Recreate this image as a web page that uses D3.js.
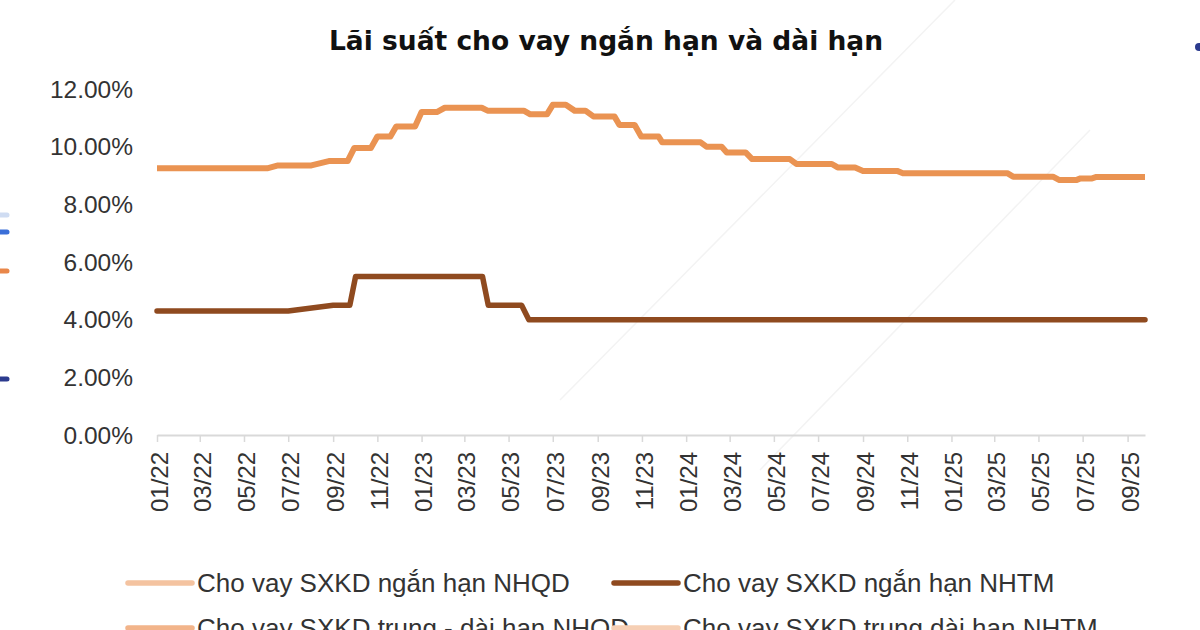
<!DOCTYPE html>
<html>
<head>
<meta charset="utf-8">
<script src="https://cdn.jsdelivr.net/npm/d3@7"></script>
<style>
  html, body { margin: 0; padding: 0; background: #ffffff; }
  svg { display: block; }
</style>
</head>
<body>
<svg id="chart" width="1200" height="630"></svg>
<script>
// ---------------- DATA ----------------
const chartTitle = "Lãi suất cho vay ngắn hạn và dài hạn";

const xTickLabels = ["01/22","03/22","05/22","07/22","09/22","11/22","01/23","03/23","05/23","07/23","09/23","11/23",
                     "01/24","03/24","05/24","07/24","09/24","11/24","01/25","03/25","05/25","07/25","09/25"];
const yTickValues = [0, 2, 4, 6, 8, 10, 12];

// Orange line (breakpoints of the step-like series, %)
const orangeDates = ["2022-01-01","2022-06-02","2022-06-17","2022-08-02","2022-08-26","2022-09-21","2022-09-30","2022-10-23",
  "2022-11-01","2022-11-19","2022-11-27","2022-12-23","2023-01-01","2023-01-22","2023-02-02","2023-03-25","2023-04-02",
  "2023-05-22","2023-05-31","2023-06-23","2023-07-01","2023-07-19","2023-07-31","2023-08-15","2023-08-26","2023-09-24",
  "2023-10-01","2023-10-22","2023-10-31","2023-11-24","2023-11-29","2024-01-21","2024-01-29","2024-02-19","2024-02-26",
  "2024-03-23","2024-04-01","2024-05-23","2024-06-01","2024-07-20","2024-07-28","2024-08-21","2024-09-01","2024-10-18",
  "2024-10-26","2025-03-19","2025-03-27","2025-05-21","2025-05-30","2025-06-22","2025-06-28","2025-07-14","2025-07-20",
  "2025-09-25"];
const orangeValues = [9.25,9.25,9.35,9.35,9.5,9.5,9.95,9.95,
  10.35,10.35,10.7,10.7,11.2,11.2,11.35,11.35,11.25,
  11.25,11.12,11.12,11.45,11.45,11.25,11.25,11.05,11.05,
  10.75,10.75,10.35,10.35,10.15,10.15,10.0,10.0,9.8,
  9.8,9.57,9.57,9.4,9.4,9.28,9.28,9.16,9.16,
  9.08,9.08,8.96,8.96,8.84,8.84,8.9,8.9,8.95,
  8.95];

// Brown line (%)
const brownDates = ["2022-01-01","2022-07-01","2022-09-01","2022-09-24","2022-10-02","2023-03-26","2023-04-03","2023-05-19","2023-05-29","2025-09-25"];
const brownValues = [4.3,4.3,4.5,4.5,5.5,5.5,4.5,4.5,4.0,4.0];

const legendLabels = ["Cho vay SXKD ngắn hạn NHQD","Cho vay SXKD ngắn hạn NHTM",
                      "Cho vay SXKD trung - dài hạn NHQD","Cho vay SXKD trung dài hạn NHTM"];
const legendColors = ["#f4c3a0","#8f4a1f","#f2b48a","#f6cfb4"];

// ---------------- CHART ----------------
const svg = d3.select("#chart");
const parse = d3.timeParse("%Y-%m-%d");
const parseTick = d3.timeParse("%m/%y");

const x = d3.scaleTime()
  .domain([parse("2022-01-01"), parse("2025-09-25")])
  .range([157, 1145]);
const y = d3.scaleLinear().domain([0, 12]).range([435, 89]);

// very faint background decoration (from the source slide)
const deco = svg.append("g");
deco.append("line").attr("x1", 955).attr("y1", 0).attr("x2", 560).attr("y2", 400)
  .attr("stroke", "#f3f3f3").attr("stroke-width", 1.5);
deco.append("line").attr("x1", 1090).attr("y1", 130).attr("x2", 760).attr("y2", 470)
  .attr("stroke", "#f3f3f3").attr("stroke-width", 1.5);
const edgeMarks = [[215, "#cfdcf2"], [232, "#3a6fd8"], [271, "#e9874a"], [379, "#2c3b8e"]];
edgeMarks.forEach(([yy, c]) => {
  svg.append("line").attr("x1", -4).attr("x2", 7).attr("y1", yy).attr("y2", yy)
    .attr("stroke", c).attr("stroke-width", 5).attr("stroke-linecap", "round");
});
svg.append("circle").attr("cx", 1199).attr("cy", 47).attr("r", 4).attr("fill", "#2c3b8e");

// title
svg.append("text")
  .attr("x", 606).attr("y", 50)
  .attr("text-anchor", "middle")
  .attr("font-family", "DejaVu Sans, sans-serif")
  .attr("font-weight", "bold")
  .attr("font-size", 26.5)
  .attr("fill", "#111")
  .text(chartTitle);

// y axis labels
svg.append("g").selectAll("text")
  .data(yTickValues)
  .join("text")
  .attr("x", 133)
  .attr("y", d => y(d))
  .attr("dy", "0.35em")
  .attr("text-anchor", "end")
  .attr("font-family", "Liberation Sans, Arial, sans-serif")
  .attr("font-size", 24.5)
  .attr("fill", "#333")
  .text(d => d.toFixed(2) + "%");

// x axis
const tickDates = xTickLabels.map(s => parseTick(s));
const xAxis = d3.axisBottom(x)
  .tickValues(tickDates)
  .tickSize(7)
  .tickSizeOuter(0)
  .tickFormat(d3.timeFormat("%m/%y"));
const gx = svg.append("g").attr("transform", "translate(0,435)").call(xAxis);
gx.select(".domain").attr("stroke", "#d9d9d9").attr("stroke-width", 2);
gx.selectAll(".tick line").attr("stroke", "#d9d9d9").attr("stroke-width", 1.5);
gx.selectAll(".tick text")
  .attr("font-family", "Liberation Sans, Arial, sans-serif")
  .attr("font-size", 24)
  .attr("fill", "#333")
  .attr("text-anchor", "end")
  .attr("transform", "rotate(-90)")
  .attr("x", -17)
  .attr("y", 2)
  .attr("dy", "0.35em");

// lines
const line = d3.line().x(d => x(d.date)).y(d => y(d.value));
const orangeData = orangeDates.map((d, i) => ({ date: parse(d), value: orangeValues[i] }));
const brownData = brownDates.map((d, i) => ({ date: parse(d), value: brownValues[i] }));

svg.append("path").datum(orangeData)
  .attr("d", line).attr("fill", "none")
  .attr("stroke", "#ea9352").attr("stroke-width", 6)
  .attr("stroke-linejoin", "round").attr("stroke-linecap", "butt");
svg.append("path").datum(brownData)
  .attr("d", line).attr("fill", "none")
  .attr("stroke", "#8f4a1f").attr("stroke-width", 5.5)
  .attr("stroke-linejoin", "round").attr("stroke-linecap", "round");

// legend (second row is cropped by the bottom edge, as in the reference)
const legendX = [128, 614];
const legendY = [583, 628];
const lg = svg.append("g");
legendLabels.forEach((lab, i) => {
  const lx = legendX[i % 2], ly = legendY[Math.floor(i / 2)];
  lg.append("line").attr("x1", lx).attr("x2", lx + 64).attr("y1", ly).attr("y2", ly)
    .attr("stroke", legendColors[i]).attr("stroke-width", 5.5).attr("stroke-linecap", "round");
  lg.append("text").attr("x", lx + 69).attr("y", ly).attr("dy", "0.35em")
    .attr("font-family", "Liberation Sans, Arial, sans-serif")
    .attr("font-size", 26).attr("fill", "#333").text(lab);
});
</script>
</body>
</html>
